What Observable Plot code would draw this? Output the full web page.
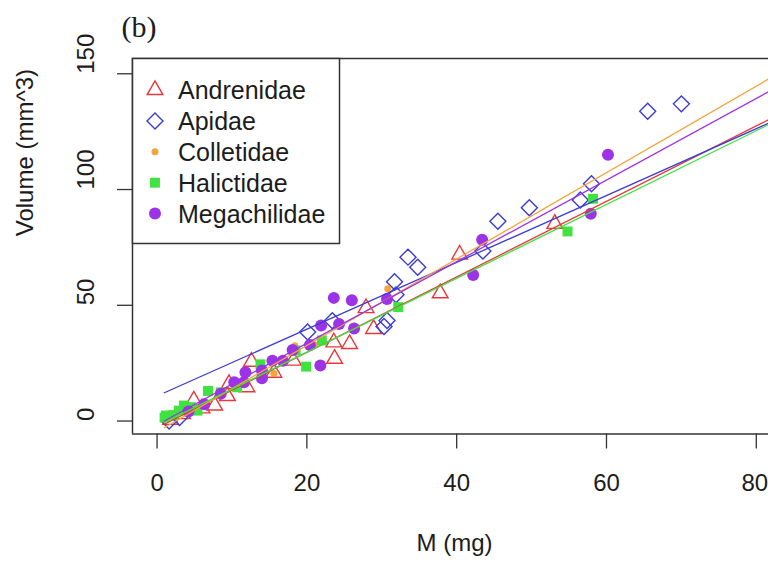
<!DOCTYPE html>
<html>
<head>
<meta charset="utf-8">
<script src="https://cdn.jsdelivr.net/npm/d3@7"></script>
<script src="https://cdn.jsdelivr.net/npm/@observablehq/plot@0.6"></script>
<style>
  html, body { margin: 0; padding: 0; background: #fff; }
  #wrap { position: relative; width: 768px; height: 562px; overflow: hidden; }
  #wrap svg { position: absolute; left: 0; top: 0; }
</style>
</head>
<body>
<div id="wrap"></div>
<script>
// ---- data ----
const families = ["Andrenidae", "Apidae", "Colletidae", "Halictidae", "Megachilidae"];
const familyColors = ["#e8383c", "#3b3bd6", "#f7a43a", "#3fe33f", "#9c33e6"];

const andrenidaeM = [1.8, 3.4, 4.9, 6.0, 7.7, 9.4, 9.6, 12.0, 12.6, 15.6, 18.2, 23.6, 23.7, 25.7, 27.9, 28.9, 37.8, 40.4, 53.1];
const andrenidaeV = [0.5, 3.0, 8.9, 5.5, 6.7, 10.8, 16.0, 14.6, 25.6, 20.9, 26.1, 34.0, 26.9, 33.3, 48.8, 39.8, 55.2, 71.9, 85.2];

const apidaeM = [1.6, 3.0, 20.1, 23.4, 30.3, 30.7, 31.9, 31.7, 33.5, 34.8, 43.5, 45.5, 49.7, 56.5, 58.0, 65.5, 70.0];
const apidaeV = [0.0, 1.5, 38.5, 43.3, 40.8, 43.4, 54.5, 60.2, 70.8, 66.4, 73.4, 86.3, 92.1, 95.5, 102.5, 133.8, 137.0];

const colletidaeM = [2.5, 11.5, 15.6, 18.4, 21.0, 30.8];
const colletidaeV = [3.5, 16.0, 20.5, 32.5, 33.0, 57.1];

const halictidaeM = [1.0, 1.2, 2.2, 2.9, 3.6, 4.5, 5.4, 6.8, 8.5, 10.7, 13.8, 18.5, 19.9, 22.0, 32.2, 54.8, 58.2];
const halictidaeV = [1.5, 2.4, 2.6, 4.5, 6.7, 6.0, 4.5, 13.0, 12.4, 14.6, 24.5, 30.5, 23.5, 34.8, 49.2, 81.9, 96.0];

const megachilidaeM = [4.2, 6.3, 8.5, 10.3, 11.6, 11.8, 14.0, 14.0, 15.4, 16.8, 18.1, 20.4, 21.8, 21.9, 23.6, 24.3, 26.0, 26.3, 30.7, 42.2, 43.4, 57.9, 60.2];
const megachilidaeV = [4.1, 7.3, 11.8, 16.8, 16.8, 21.1, 18.5, 21.8, 26.0, 26.0, 30.7, 32.8, 24.0, 41.3, 53.2, 41.9, 52.2, 40.0, 52.7, 63.1, 78.3, 89.5, 115.0];

// fitted lines per family (endpoints)
const lineM0 = [0.9, 0.9, 0.9, 0.9, 0.9];
const lineV0 = [-1.5, 12.1, -3.0, -0.7, -0.1];
const lineM1 = [85, 85, 85, 85, 85];
const lineV1 = [135.6, 133.5, 154.0, 133.4, 148.2];

const xTicks = [0, 20, 40, 60, 80];
const yTicks = [0, 50, 100, 150];
const xLabel = "M (mg)";
const yLabel = "Volume (mm^3)";
const panelTag = "(b)";

// ---- styling ----
const symbolNames = ["triangle2", "diamond2", "circle", "square", "circle"];
const symbolR = [7.5, 7.2, 3.5, 5.6, 6];
const symbolFilled = [false, false, true, true, true];
const sans = "'Liberation Sans', Arial, Helvetica, sans-serif";
const ink = "#1c1c1c";

const seriesM = [andrenidaeM, apidaeM, colletidaeM, halictidaeM, megachilidaeM];
const seriesV = [andrenidaeV, apidaeV, colletidaeV, halictidaeV, megachilidaeV];

const xDomain = [-3.28, 81.63];
const yDomain = [-5.6, 156.6];

const dotMarks = families.map((f, i) => {
  const pts = seriesM[i].map((m, j) => ({M: m, V: seriesV[i][j]}));
  return Plot.dot(pts, {
    x: "M", y: "V",
    symbol: symbolNames[i],
    r: symbolR[i],
    stroke: symbolFilled[i] ? "none" : familyColors[i],
    fill: symbolFilled[i] ? familyColors[i] : "none",
    strokeWidth: 1.4
  });
});

const lines = families.map((f, i) => ({family: f, color: familyColors[i], x1: lineM0[i], y1: lineV0[i], x2: lineM1[i], y2: lineV1[i]}));

const innerTicks = xTicks.slice(0, -1);
const edgeTick = xTicks.slice(-1);

const chart = Plot.plot({
  width: 768,
  height: 562,
  marginLeft: 132,
  marginRight: 0,
  marginTop: 58,
  marginBottom: 128.5,
  x: {domain: xDomain},
  y: {domain: yDomain},
  style: {fontFamily: sans, background: "white", color: ink},
  marks: [
    Plot.axisX({ticks: xTicks, tickSize: 15, tickFormat: () => "", label: null, stroke: "#333", strokeWidth: 1.3}),
    Plot.axisY({ticks: yTicks, tickSize: 15, tickFormat: () => "", label: null, stroke: "#333", strokeWidth: 1.3}),
    ...dotMarks,
    Plot.link(lines, {x1: "x1", y1: "y1", x2: "x2", y2: "y2", stroke: "color", strokeWidth: 1.3}),
    Plot.ruleX([xDomain[0]], {stroke: "#333", strokeWidth: 1.5}),
    Plot.ruleY([yDomain[0], yDomain[1]], {stroke: "#333", strokeWidth: 1.5}),
    Plot.text(innerTicks, {x: d => d, text: d => String(d), frameAnchor: "bottom", dy: 49.5, lineAnchor: "middle", fontSize: 24, fill: ink}),
    Plot.text(edgeTick, {x: d => d, text: d => String(d), frameAnchor: "bottom", dx: 11.8, dy: 49.5, textAnchor: "end", lineAnchor: "middle", fontSize: 24, fill: ink}),
    Plot.text(yTicks, {y: d => d, text: d => String(d), frameAnchor: "left", dx: -46, rotate: -90, lineAnchor: "middle", fontSize: 24, fill: ink}),
    Plot.text([yLabel], {text: d => d, frameAnchor: "left", dx: -107, dy: -10, rotate: -90, lineAnchor: "middle", fontSize: 24, fill: ink}),
    Plot.text([xLabel], {text: d => d, frameAnchor: "bottom", dx: 4, dy: 109.5, lineAnchor: "middle", fontSize: 24, fill: ink}),
    Plot.text([panelTag], {text: d => d, frameAnchor: "top-left", dx: 6.5, dy: -31.5, lineAnchor: "middle", textAnchor: "middle", fontSize: 30, fontFamily: "'Liberation Serif', 'Times New Roman', serif", fill: ink})
  ]
});

const wrap = document.getElementById("wrap");
wrap.appendChild(chart);

// ---- legend (inside the plot box, top-left) ----
const d3Symbols = {triangle2: d3.symbolTriangle2, diamond2: d3.symbolDiamond2, circle: d3.symbolCircle, square: d3.symbolSquare};
const leg = d3.select(wrap).append("svg")
  .attr("width", 768).attr("height", 562)
  .style("pointer-events", "none");
leg.append("rect")
  .attr("x", 132.5).attr("y", 58.5).attr("width", 207).attr("height", 185)
  .attr("fill", "white").attr("stroke", "#333").attr("stroke-width", 1.5);
families.forEach((f, i) => {
  const cy = 90 + i * 30.9;
  leg.append("path")
    .attr("transform", `translate(155,${cy})`)
    .attr("d", d3.symbol(d3Symbols[symbolNames[i]], Math.PI * symbolR[i] * symbolR[i])())
    .attr("fill", symbolFilled[i] ? familyColors[i] : "none")
    .attr("stroke", symbolFilled[i] ? "none" : familyColors[i])
    .attr("stroke-width", 1.4);
  leg.append("text")
    .attr("x", 178).attr("y", cy).attr("dy", "0.36em")
    .attr("font-family", sans).attr("font-size", 25).attr("fill", ink)
    .text(f);
});
</script>
</body>
</html>
